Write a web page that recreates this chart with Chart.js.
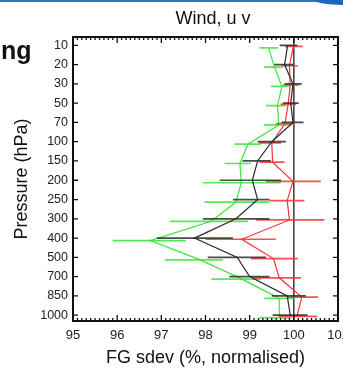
<!DOCTYPE html>
<html>
<head>
<meta charset="utf-8">
<script src="https://cdn.jsdelivr.net/npm/chart.js@4"></script>
<style>
  body { margin: 0; background: #fff; }
  #wrap { position: relative; width: 343px; height: 368px; overflow: hidden; }
  #js--chart { position: absolute; left: 0; top: 0; }
  .slide-top { position: absolute; left: 0; top: 0; width: 343px; height: 2px; background: #2a78cc; }
  .slide-corner { position: absolute; right: 0; top: 0; width: 28px; height: 5px; background: #1a68c2; border-bottom-left-radius: 28px 5px; }
  .slide-ng { position: absolute; left: 1px; top: 38px; font: bold 25px/25px "Liberation Sans", Arial, sans-serif; color: #111; }
</style>
</head>
<body>
<div id="wrap">
  <canvas id="js--chart" width="343" height="368"></canvas>
  <div class="slide-top"></div>
  <div class="slide-corner"></div>
  <div class="slide-ng">ng</div>
</div>
<script>
// pressure levels (hPa), top to bottom
const levels = [10, 20, 30, 50, 70, 100, 150, 200, 250, 300, 400, 500, 700, 850, 1000];

// green series: value, error bar low / high
const greenVal = [99.43, 99.56, 99.73, 99.63, 99.66, 98.96, 98.78, 98.81, 98.69, 98.13, 96.75, 97.88, 98.83, 99.67, 99.67];
const greenLo  = [99.22, 99.33, 99.48, 99.37, 99.33, 98.66, 98.43, 97.94, 97.98, 97.19, 95.90, 97.08, 98.13, 99.33, 99.22];
const greenHi  = [99.64, 99.75, 99.90, 99.82, 99.94, 99.26, 99.03, 99.71, 99.45, 98.96, 97.56, 98.39, 99.26, 100.00, 99.94];

// black series
const blackVal = [99.86, 99.79, 99.98, 99.93, 99.98, 99.50, 99.18, 99.06, 99.18, 98.69, 97.75, 98.72, 99.00, 99.85, 99.92];
const blackLo  = [99.68, 99.56, 99.79, 99.75, 99.72, 99.18, 98.84, 98.32, 98.62, 97.94, 96.90, 98.05, 98.54, 99.50, 99.52];
const blackHi  = [100.08, 100.00, 100.18, 100.11, 100.22, 99.82, 99.48, 99.71, 99.45, 99.45, 98.62, 99.37, 99.45, 100.27, 100.31];

// red series
const redVal = [99.99, 99.90, 99.92, 99.87, 99.80, 99.50, 99.52, 99.98, 99.85, 99.90, 98.82, 99.54, 99.67, 100.18, 100.07];
const redLo  = [99.80, 99.72, 99.75, 99.70, 99.60, 99.22, 99.22, 99.37, 99.45, 99.15, 98.00, 99.03, 99.07, 99.86, 99.67];
const redHi  = [100.20, 100.09, 100.12, 100.05, 100.00, 99.71, 99.79, 100.61, 100.24, 100.69, 99.60, 100.09, 100.16, 100.55, 100.53];

const xTicks = [95, 96, 97, 98, 99, 100, 101];
const refValue = 100;

const FONT = '"Liberation Sans", Arial, Helvetica, sans-serif';

function points(vals, shift) {
  return vals.map(function (v, i) { return { x: v, y: i + shift }; });
}

function makeSet(vals, lo, hi, color, shift) {
  return {
    data: points(vals, shift),
    lo: lo,
    hi: hi,
    shift: shift,
    borderColor: color,
    borderWidth: 1.2,
    pointRadius: 0,
    tension: 0,
    fill: false
  };
}

const framePlugin = {
  id: 'frame',
  beforeDatasetsDraw(chart) {
    const { ctx, chartArea: a, scales: { x } } = chart;
    const px = x.getPixelForValue(refValue);
    ctx.save();
    ctx.strokeStyle = '#3a3a3a';
    ctx.lineWidth = 1.5;
    ctx.beginPath();
    ctx.moveTo(px, a.top);
    ctx.lineTo(px, a.bottom);
    ctx.stroke();
    ctx.restore();
  },
  afterDatasetDraw(chart, args) {
    const ds = chart.data.datasets[args.index];
    const { ctx, scales: { x, y } } = chart;
    ctx.save();
    ctx.strokeStyle = ds.borderColor;
    ctx.globalAlpha = 0.85;
    ctx.lineWidth = 1.7;
    ctx.beginPath();
    for (let i = 0; i < ds.lo.length; i++) {
      const py = y.getPixelForValue(i + ds.shift);
      ctx.moveTo(x.getPixelForValue(ds.lo[i]), py);
      ctx.lineTo(x.getPixelForValue(ds.hi[i]), py);
    }
    ctx.stroke();
    ctx.restore();
  },
  afterDraw(chart) {
    const { ctx, chartArea: a, scales: { x, y } } = chart;
    ctx.save();
    ctx.strokeStyle = '#111';
    ctx.lineWidth = 2;
    ctx.strokeRect(a.left, a.top, a.right - a.left, a.bottom - a.top);

    ctx.lineWidth = 1.3;
    ctx.beginPath();
    // minor x ticks every 0.1, major every 1
    for (let k = 0; k <= Math.round((x.max - x.min) * 10); k++) {
      const v = x.min + k / 10;
      const px = x.getPixelForValue(v);
      const len = (k % 10 === 0) ? 6 : 3;
      ctx.moveTo(px, a.bottom);
      ctx.lineTo(px, a.bottom - len);
      ctx.moveTo(px, a.top);
      ctx.lineTo(px, a.top + len);
    }
    // y ticks on both sides
    levels.forEach(function (l, i) {
      const py = y.getPixelForValue(i);
      ctx.moveTo(a.left, py);
      ctx.lineTo(a.left + 5, py);
      ctx.moveTo(a.right, py);
      ctx.lineTo(a.right - 5, py);
    });
    ctx.stroke();

    // title
    ctx.fillStyle = '#111';
    ctx.font = '18px ' + FONT;
    ctx.textAlign = 'center';
    ctx.textBaseline = 'alphabetic';
    ctx.fillText('Wind, u v', 213, 23.5);
    ctx.restore();
  }
};

const config = {
  type: 'line',
  data: {
    datasets: [
      makeSet(blackVal, blackLo, blackHi, '#2b2b2b', 0),
      makeSet(redVal, redLo, redHi, '#ff3030', 0.06),
      makeSet(greenVal, greenLo, greenHi, '#3ae63a', 0.13)
    ]
  },
  options: {
    responsive: false,
    animation: false,
    layout: { padding: { top: 37, right: 5, left: 0, bottom: 0 } },
    plugins: {
      legend: { display: false },
      tooltip: { enabled: false }
    },
    scales: {
      x: {
        type: 'linear',
        min: xTicks[0],
        max: xTicks[xTicks.length - 1],
        grid: { display: false, drawTicks: false },
        border: { display: false },
        afterBuildTicks: function (s) { s.ticks = xTicks.map(function (v) { return { value: v }; }); },
        ticks: {
          autoSkip: false,
          maxRotation: 0,
          padding: 7,
          color: '#222',
          font: { family: FONT, size: 13 }
        },
        title: {
          display: true,
          text: 'FG sdev (%, normalised)',
          color: '#111',
          font: { family: FONT, size: 18, lineHeight: 1 },
          padding: { top: 0, bottom: 1 }
        },
        afterFit: function (s) { s.height = 47; s.paddingLeft = 0; s.paddingRight = 0; }
      },
      y: {
        type: 'linear',
        reverse: true,
        min: -0.43,
        max: 14.3,
        grid: { display: false, drawTicks: false },
        border: { display: false },
        afterBuildTicks: function (s) { s.ticks = levels.map(function (l, i) { return { value: i }; }); },
        ticks: {
          autoSkip: false,
          padding: 5,
          color: '#222',
          font: { family: FONT, size: 12.5 },
          callback: function (v) { return levels[v]; }
        },
        title: {
          display: true,
          text: 'Pressure (hPa)',
          color: '#111',
          font: { family: FONT, size: 18, lineHeight: 1 },
          padding: { top: 13.5, bottom: 0 }
        },
        afterFit: function (s) { s.width = 73; s.paddingTop = 0; s.paddingBottom = 0; }
      }
    }
  },
  plugins: [framePlugin]
};

const chart1 = new Chart(document.getElementById('js--chart'), config);
</script>
</body>
</html>
